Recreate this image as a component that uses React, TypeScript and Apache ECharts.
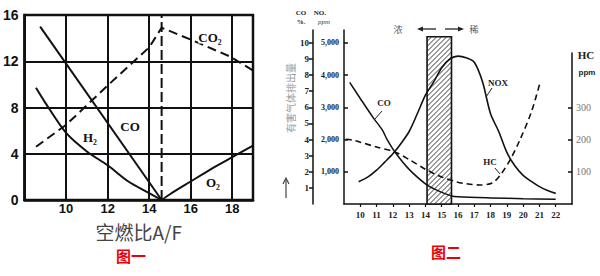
import React, { useEffect, useRef } from "react";
import * as echarts from "echarts";

// ---- Figure 1 (left): exhaust composition vs air/fuel ratio ----
const f1XTicks = [10, 12, 14, 16, 18];
const f1YTicks = [0, 4, 8, 12, 16];
const f1CO = [[8.75, 15.0], [14.6, 0]];
const f1H2 = [[8.55, 9.7], [9, 8.4], [10, 5.8], [11, 4.2], [12, 3.0], [13, 1.6], [14, 0.6], [14.6, 0]];
const f1O2 = [[14.6, 0], [15, 0.5], [16, 1.6], [17, 2.7], [18, 3.7], [19, 4.7]];
const f1CO2 = [[8.55, 4.6], [10, 6.5], [12, 9.9], [14, 13.2], [14.6, 14.9], [16.1, 13.8], [17.9, 12.4], [19, 11.2]];
const f1Stoich = [[14.6, 0], [14.6, 16]];

// ---- Figure 2 (right): emissions vs air/fuel ratio ----
const f2XTicks = [10, 11, 12, 13, 14, 15, 16, 17, 18, 19, 20, 21, 22];
const f2COTicks = [1, 2, 3, 4, 5, 6, 7, 8, 9, 10];
const f2NOxTicks = [1000, 2000, 3000, 4000, 5000];
const f2HCTicks = [100, 200, 300];
const coX = [9.35, 10, 10.8, 11.35, 11.65, 12.15, 13, 14, 14.5, 15, 15.6, 16, 18, 20, 22];
const coY = [7.55, 6.55, 5.35, 4.6, 4.0, 3.2, 2.15, 1.25, 0.95, 0.72, 0.5, 0.45, 0.38, 0.33, 0.3];
const noxX = [9.9, 10.5, 11, 11.5, 12, 12.5, 13, 13.5, 14, 14.5, 15, 15.5, 16, 16.5, 17, 17.5, 18, 18.5, 19, 19.5, 20, 20.5, 21, 21.5, 22];
const noxY = [690, 850, 1050, 1300, 1560, 1880, 2250, 2800, 3380, 3780, 4230, 4500, 4590, 4540, 4400, 3800, 2800, 2250, 1600, 1180, 890, 700, 540, 420, 330];
const hcX = [9.1, 9.6, 10, 11, 12.15, 13, 14, 14.5, 15, 15.9, 16.5, 17.35, 18.1, 18.6, 19.2, 19.8, 20.5, 21.05];
const hcY = [201, 198, 192, 177, 161, 138, 108, 95, 84, 69, 63, 59, 65, 90, 137, 199, 285, 379];
const hatchBand = [[14.1, 15.6, 5190]];

const zip = (xs: number[], ys: number[]) => xs.map((x, i) => [x, ys[i]]);

export default function App() {
  const ref = useRef<HTMLDivElement>(null);
  useEffect(() => {
    if (!ref.current) return;
    const chart = echarts.init(ref.current, undefined, { renderer: "svg" });
    const serif = "Liberation Serif";
    const sans = "Liberation Sans";
    const black = "#111";
    const option: any = {
      animation: false,
      backgroundColor: "#fff",
      grid: [
        { left: 24, right: 347, top: 15, bottom: 76, show: true, borderColor: black, borderWidth: 2.5, backgroundColor: "transparent" },
        { left: 344, right: 28, top: 30, bottom: 72 },
        { left: 344, right: 28, top: 53, bottom: 72 },
      ],
      xAxis: [
        {
          gridIndex: 0, type: "value", min: 8, max: 19, interval: 2,
          axisLine: { show: true, lineStyle: { color: black, width: 2.5 } },
          axisTick: { show: false },
          axisLabel: { customValues: f1XTicks, color: black, fontFamily: sans, fontWeight: "bold", fontSize: 13, margin: 2 },
          splitLine: { show: true, lineStyle: { color: black, width: 2 } },
          name: "空燃比A/F", nameLocation: "middle", nameGap: 22,
          nameTextStyle: { fontFamily: "Noto Sans CJK SC", fontSize: 19, color: "#444" },
        },
        {
          gridIndex: 1, type: "value", min: 9, max: 23,
          axisLine: { show: true, onZero: false, lineStyle: { color: black, width: 1.5 } },
          axisTick: { show: true, customValues: f2XTicks, length: 3, lineStyle: { color: black, width: 1.2 } },
          axisLabel: { customValues: f2XTicks, color: "#222", fontFamily: serif, fontWeight: "bold", fontSize: 9, margin: 6 },
          splitLine: { show: false },
        },
        { gridIndex: 2, type: "value", min: 9, max: 23, show: false },
      ],
      yAxis: [
        {
          gridIndex: 0, type: "value", min: 0, max: 16, interval: 4,
          axisLine: { show: true, lineStyle: { color: black, width: 2.5 } },
          axisTick: { show: false },
          axisLabel: { customValues: f1YTicks, color: black, fontFamily: sans, fontWeight: "bold", fontSize: 14, margin: 6 },
          splitLine: { show: true, lineStyle: { color: black, width: 2 } },
        },
        {
          gridIndex: 1, type: "value", min: 0, max: 5400, position: "left",
          axisLine: { show: true, lineStyle: { color: black, width: 1.5 } },
          axisTick: { show: true, inside: true, customValues: f2NOxTicks, length: 4, lineStyle: { color: black, width: 1.5 } },
          axisLabel: { customValues: f2NOxTicks, formatter: (v: number) => v.toLocaleString("en-US"), color: "#222", fontFamily: serif, fontWeight: "bold", fontSize: 8, margin: 5 },
          splitLine: { show: false },
        },
        {
          gridIndex: 1, type: "value", min: 0, max: 10.8, position: "left", offset: 31,
          axisLine: { show: true, lineStyle: { color: black, width: 1.5 } },
          axisTick: { show: true, customValues: f2COTicks, length: 4, lineStyle: { color: black, width: 1.5 } },
          axisLabel: { customValues: f2COTicks, color: "#222", fontFamily: serif, fontWeight: "bold", fontSize: 9, margin: 4 },
          splitLine: { show: false },
        },
        {
          gridIndex: 2, type: "value", min: 0, max: 469, position: "right",
          axisLine: { show: true, lineStyle: { color: black, width: 1.5 } },
          axisTick: { show: true, inside: true, customValues: f2HCTicks, length: 4, lineStyle: { color: black, width: 1.5 } },
          axisLabel: { customValues: f2HCTicks, color: "#777", fontFamily: serif, fontSize: 10, margin: 4 },
          splitLine: { show: false },
        },
      ],
      series: [
        // Figure 1
        { type: "line", xAxisIndex: 0, yAxisIndex: 0, data: f1Stoich, showSymbol: false, z: 3, lineStyle: { color: black, width: 2, type: [10, 4] } },
        { type: "line", xAxisIndex: 0, yAxisIndex: 0, data: f1CO, showSymbol: false, z: 4, lineStyle: { color: black, width: 2 } },
        { type: "line", xAxisIndex: 0, yAxisIndex: 0, data: f1H2, smooth: 0.3, showSymbol: false, z: 4, lineStyle: { color: black, width: 2 } },
        { type: "line", xAxisIndex: 0, yAxisIndex: 0, data: f1O2, smooth: 0.3, showSymbol: false, z: 4, lineStyle: { color: black, width: 2 } },
        { type: "line", xAxisIndex: 0, yAxisIndex: 0, data: f1CO2, showSymbol: false, z: 4, lineStyle: { color: black, width: 2, type: [9, 5] } },
        // Figure 2
        {
          type: "custom", xAxisIndex: 1, yAxisIndex: 1, data: hatchBand, z: 1, clip: false,
          encode: { x: [0, 1], y: 2 },
          renderItem: (_p: any, api: any) => {
            const a = api.coord([api.value(0), api.value(2)]);
            const b = api.coord([api.value(1), 0]);
            const x = a[0], y = a[1], w = b[0] - a[0], h = b[1] - a[1];
            const children: any[] = [
              { type: "rect", shape: { x, y, width: w, height: h }, style: { fill: "#fff", stroke: black, lineWidth: 1.6 } },
            ];
            for (let k = -w + 2; k < h; k += 5) {
              const u0 = Math.max(0, -k), u1 = Math.min(w, h - k);
              if (u1 > u0) {
                children.push({
                  type: "line",
                  shape: { x1: x + u0, y1: y + h - (u0 + k), x2: x + u1, y2: y + h - (u1 + k) },
                  style: { stroke: "#222", lineWidth: 0.9 },
                });
              }
            }
            return { type: "group", children };
          },
        },
        { type: "line", xAxisIndex: 1, yAxisIndex: 2, data: zip(coX, coY), smooth: 0.3, showSymbol: false, z: 3, lineStyle: { color: black, width: 1.5 } },
        { type: "line", xAxisIndex: 1, yAxisIndex: 1, data: zip(noxX, noxY), smooth: 0.3, showSymbol: false, z: 3, lineStyle: { color: black, width: 1.6 } },
        { type: "line", xAxisIndex: 2, yAxisIndex: 3, data: zip(hcX, hcY), smooth: 0.3, showSymbol: false, z: 3, lineStyle: { color: black, width: 1.6, type: [6, 4] } },
      ],
      graphic: [
        // figure 1 curve labels
        { type: "text", x: 210, y: 37, z: 10, style: { text: "CO₂", font: `bold 13px "${serif}"`, fill: black, textAlign: "center", textVerticalAlign: "middle", backgroundColor: "#fff" } },
        { type: "text", x: 130, y: 126, z: 10, style: { text: "CO", font: `bold 13px "${serif}"`, fill: black, textAlign: "center", textVerticalAlign: "middle" } },
        { type: "text", x: 90, y: 137, z: 10, style: { text: "H₂", font: `bold 13px "${serif}"`, fill: black, textAlign: "center", textVerticalAlign: "middle" } },
        { type: "text", x: 213, y: 182, z: 10, style: { text: "O₂", font: `bold 13px "${serif}"`, fill: black, textAlign: "center", textVerticalAlign: "middle" } },
        // captions
        { type: "text", x: 131, y: 255, style: { text: "图一", font: 'bold 15px "Noto Sans CJK SC"', fill: "#e8000b", textAlign: "center", textVerticalAlign: "middle" } },
        { type: "text", x: 446, y: 251, style: { text: "图二", font: 'bold 15px "Noto Sans CJK SC"', fill: "#e8000b", textAlign: "center", textVerticalAlign: "middle" } },
        // figure 2 axis headers
        { type: "text", x: 301, y: 13, style: { text: "CO", font: `bold 7px "${serif}"`, fill: "#222", textAlign: "center", textVerticalAlign: "middle" } },
        { type: "text", x: 301, y: 22, style: { text: "%.", font: `bold 7px "${serif}"`, fill: "#222", textAlign: "center", textVerticalAlign: "middle" } },
        { type: "text", x: 320, y: 13, style: { text: "NOₓ", font: `bold 7px "${serif}"`, fill: "#222", textAlign: "center", textVerticalAlign: "middle" } },
        { type: "text", x: 324, y: 22, style: { text: "ppm", font: `italic 7px "${serif}"`, fill: "#444", textAlign: "center", textVerticalAlign: "middle" } },
        { type: "text", x: 586, y: 55, style: { text: "HC", font: `bold 11px "${serif}"`, fill: "#222", textAlign: "center", textVerticalAlign: "middle" } },
        { type: "text", x: 587, y: 72, style: { text: "ppm", font: `bold 8px "${sans}"`, fill: "#222", textAlign: "center", textVerticalAlign: "middle" } },
        // vertical axis title and arrow
        { type: "text", x: 290, y: 98, rotation: Math.PI / 2, style: { text: "有害气体排出量", font: '10px "Noto Sans CJK SC"', fill: "#999", textAlign: "center", textVerticalAlign: "middle" } },
        { type: "line", shape: { x1: 286, y1: 198, x2: 286, y2: 179 }, style: { stroke: "#444", lineWidth: 1.2 } },
        { type: "polyline", shape: { points: [[283, 184], [286, 178], [289, 184]] }, style: { stroke: "#444", lineWidth: 1.2, fill: "none" } },
        // rich / lean arrows
        { type: "text", x: 398, y: 29, style: { text: "浓", font: '9px "Noto Sans CJK SC"', fill: "#555", textAlign: "center", textVerticalAlign: "middle" } },
        { type: "text", x: 474, y: 29, style: { text: "稀", font: '9px "Noto Sans CJK SC"', fill: "#555", textAlign: "center", textVerticalAlign: "middle" } },
        { type: "line", shape: { x1: 419, y1: 29, x2: 436, y2: 29 }, style: { stroke: "#222", lineWidth: 1.3 } },
        { type: "polygon", shape: { points: [[417, 29], [423, 26.5], [423, 31.5]] }, style: { fill: "#222" } },
        { type: "line", shape: { x1: 445, y1: 29, x2: 462, y2: 29 }, style: { stroke: "#222", lineWidth: 1.3 } },
        { type: "polygon", shape: { points: [[464, 29], [458, 26.5], [458, 31.5]] }, style: { fill: "#222" } },
        // figure 2 curve labels with leaders
        { type: "text", x: 384, y: 103, style: { text: "CO", font: `bold 9px "${serif}"`, fill: "#222", textAlign: "center", textVerticalAlign: "middle" } },
        { type: "line", shape: { x1: 382, y1: 111, x2: 375, y2: 119 }, style: { stroke: "#222", lineWidth: 1 } },
        { type: "text", x: 498, y: 83, style: { text: "NOX", font: `bold 9px "${serif}"`, fill: "#222", textAlign: "center", textVerticalAlign: "middle" } },
        { type: "line", shape: { x1: 492, y1: 88, x2: 486, y2: 97 }, style: { stroke: "#222", lineWidth: 1 } },
        { type: "text", x: 490, y: 162, style: { text: "HC", font: `bold 9px "${serif}"`, fill: "#222", textAlign: "center", textVerticalAlign: "middle" } },
        { type: "line", shape: { x1: 495, y1: 168, x2: 500, y2: 174 }, style: { stroke: "#222", lineWidth: 1 } },
      ],
    };
    chart.setOption(option);
    return () => chart.dispose();
  }, []);
  return <div ref={ref} style={{ position: "fixed", left: 0, top: 0, width: 600, height: 276, background: "#fff" }} />;
}
